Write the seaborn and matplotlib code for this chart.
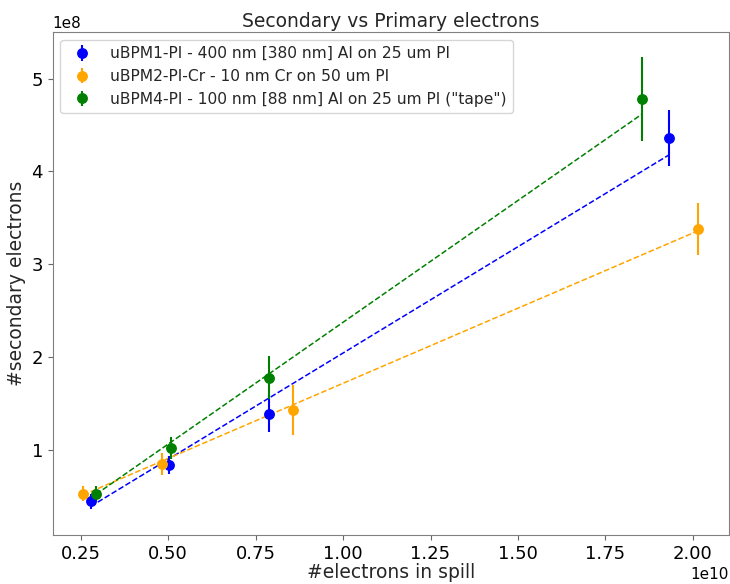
import numpy as np
import pandas as pd
import matplotlib
matplotlib.use("Agg")
import matplotlib.pyplot as plt
import seaborn as sns

# Measured points: primary electrons per spill (x) and secondary electrons (y)
labels = [
    "uBPM1-PI - 400 nm [380 nm] Al on 25 um PI",
    "uBPM2-PI-Cr - 10 nm Cr on 50 um PI",
    'uBPM4-PI - 100 nm [88 nm] Al on 25 um PI ("tape")',
]
colors = ["blue", "orange", "green"]

x_blue = [0.279e10, 0.501e10, 0.788e10, 1.931e10]
y_blue = [0.447e8, 0.84e8, 1.39e8, 4.36e8]
e_blue = [0.08e8, 0.10e8, 0.20e8, 0.30e8]

x_orange = [0.257e10, 0.482e10, 0.857e10, 2.014e10]
y_orange = [0.53e8, 0.85e8, 1.43e8, 3.38e8]
e_orange = [0.08e8, 0.12e8, 0.27e8, 0.28e8]

x_green = [0.294e10, 0.508e10, 0.788e10, 1.854e10]
y_green = [0.53e8, 1.02e8, 1.78e8, 4.78e8]
e_green = [0.08e8, 0.12e8, 0.23e8, 0.45e8]

# Linear fit parameters (slope in secondaries per primary, intercept in secondaries)
fit_slope = [2.29e-2, 1.618e-2, 2.624e-2]
fit_intercept = [-0.245e8, 0.101e8, -0.248e8]

sns.set_style("ticks")
plt.rcParams["font.family"] = ["DejaVu Sans"]
plt.rcParams["axes.edgecolor"] = "0.5"
plt.rcParams["xtick.color"] = "0.4"
plt.rcParams["ytick.color"] = "0.4"
plt.rcParams["xtick.labelcolor"] = "black"
plt.rcParams["ytick.labelcolor"] = "black"
plt.rcParams["xtick.major.size"] = 3.5
plt.rcParams["ytick.major.size"] = 3.5

fig = plt.figure(figsize=(7.3, 5.84), dpi=100)
ax = fig.add_axes([0.0722, 0.0839, 0.9264, 0.861])

series = [
    (x_blue, y_blue, e_blue),
    (x_orange, y_orange, e_orange),
    (x_green, y_green, e_green),
]

for (xs, ys, es), lab, col, m, b in zip(series, labels, colors, fit_slope, fit_intercept):
    ax.errorbar(xs, ys, yerr=es, fmt="o", color=col, markersize=6.8,
                elinewidth=1.5, label=lab, zorder=3)
    xf = np.array([min(xs), max(xs)])
    fit_df = pd.DataFrame({"x": xf, "y": m * xf + b})
    sns.lineplot(data=fit_df, x="x", y="y", ax=ax, color=col,
                 linestyle="--", linewidth=1.1, legend=False, zorder=2)

ax.set_xlim(0.17e10, 2.103e10)
ax.set_ylim(0.085e8, 5.5e8)
ax.set_xticks([0.25e10, 0.5e10, 0.75e10, 1.0e10, 1.25e10, 1.5e10, 1.75e10, 2.0e10])
ax.set_yticks([1e8, 2e8, 3e8, 4e8, 5e8])
ax.tick_params(labelsize=13)
ax.xaxis.get_offset_text().set_fontsize(11)
ax.yaxis.get_offset_text().set_fontsize(11)

ax.set_title("Secondary vs Primary electrons", fontsize=13.5, pad=4)
ax.set_xlabel("#electrons in spill", fontsize=13.5, labelpad=0)
ax.set_ylabel("#secondary electrons", fontsize=13.5)

ax.legend(loc="upper left", fontsize=11.2, frameon=True)

fig.savefig("out.png", dpi=100)
